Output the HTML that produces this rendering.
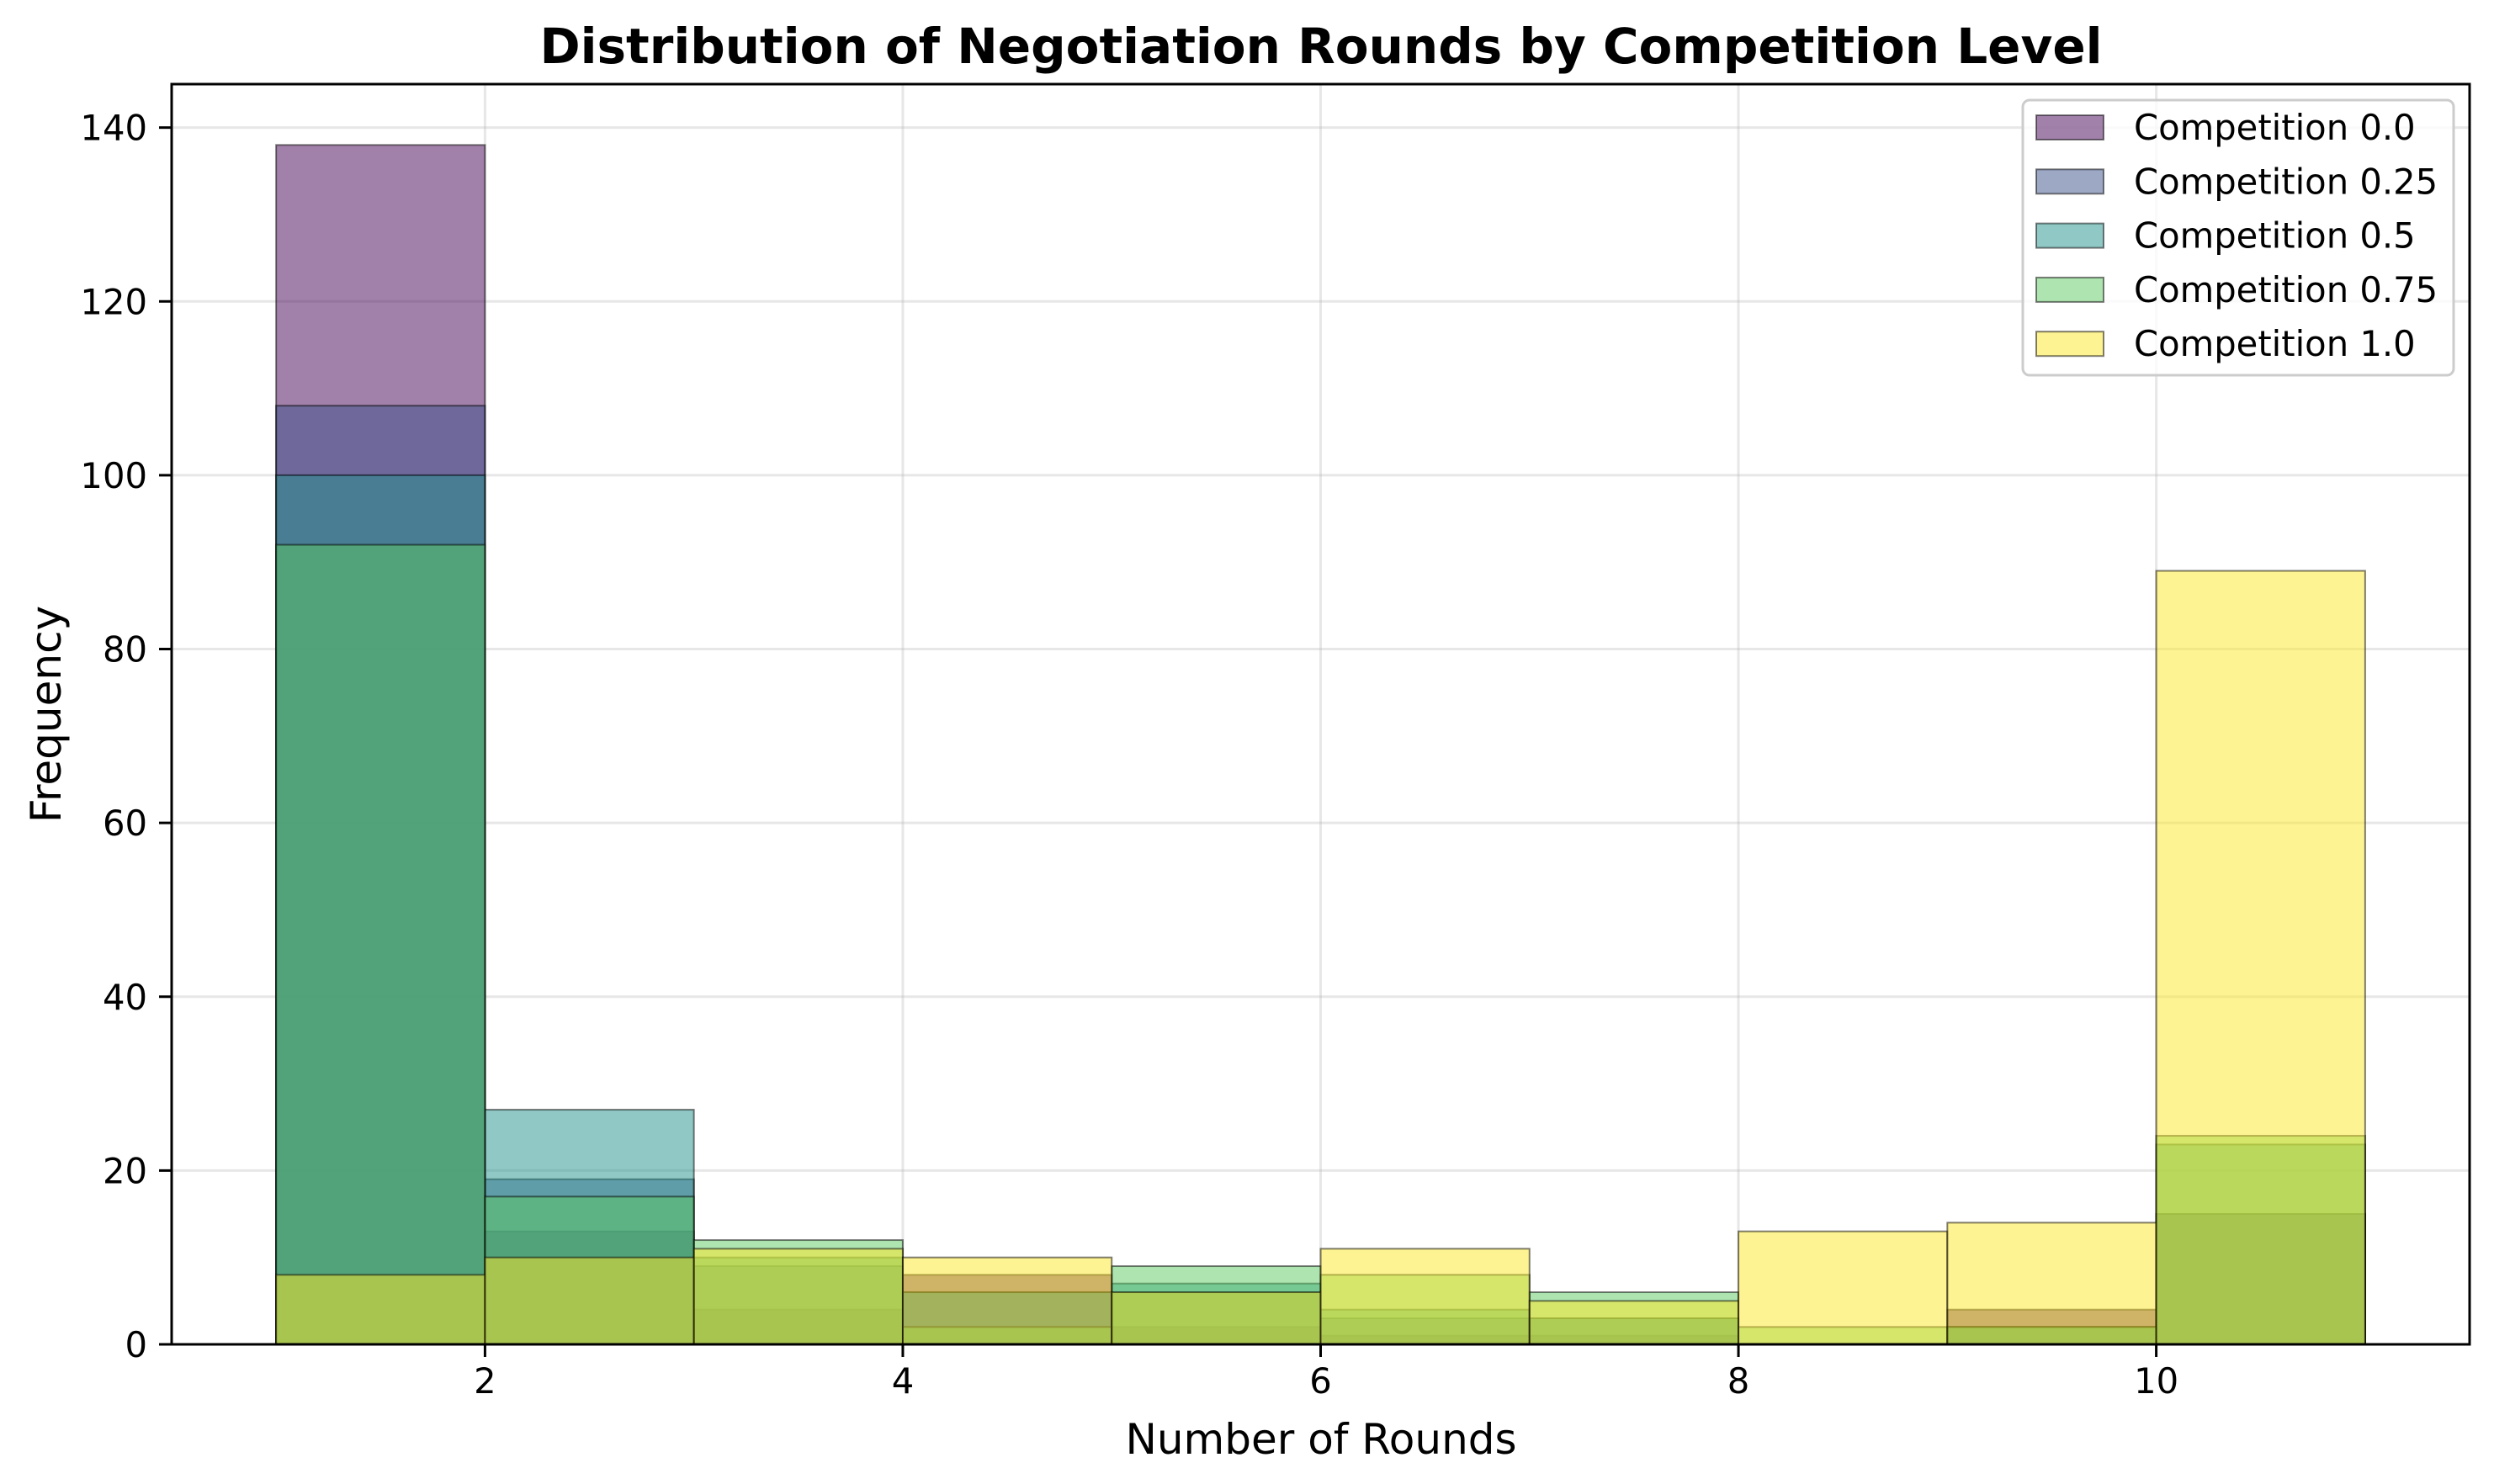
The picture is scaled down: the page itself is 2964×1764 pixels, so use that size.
<!DOCTYPE html>
<html><head><meta charset="utf-8"><style>
html,body{margin:0;padding:0;background:#fff}
svg{display:block}
text{font-family:"DejaVu Sans","Liberation Sans",sans-serif}
</style></head><body>
<svg id="chart" width="2964" height="1764" viewBox="0 0 2964 1764" xmlns="http://www.w3.org/2000/svg">
<rect width="2964" height="1764" fill="#fff"/>
<text x="1570" y="75" text-anchor="middle" font-size="58" font-weight="bold">Distribution of Negotiation Rounds by Competition Level</text>
<g id="grid"></g>
<g id="bars"></g>
<rect x="204" y="100" width="2731" height="1498" fill="none" stroke="#000" stroke-width="3"/>
<g id="ticks"></g>
<text x="1570" y="1728" text-anchor="middle" font-size="50">Number of Rounds</text>
<text transform="translate(72,849) rotate(-90)" text-anchor="middle" font-size="50">Frequency</text>
<g id="legend"></g>
</svg>
<script>
const binEdges = [1,2,3,4,5,6,7,8,9,10,11];
const seriesNames = ["Competition 0.0","Competition 0.25","Competition 0.5","Competition 0.75","Competition 1.0"];
const comp00 = [138,13,4,8,2,1,1,0,4,15];
const comp025 = [108,19,9,6,6,3,3,0,2,15];
const comp05 = [100,27,10,6,7,4,3,0,2,23];
const comp075 = [92,17,12,2,9,8,6,2,2,24];
const comp10 = [8,10,11,10,6,11,5,13,14,89];
const xTicks = [2,4,6,8,10];
const yTicks = [0,20,40,60,80,100,120,140];
const colors = ["#440154","#3b528b","#21918c","#5ec962","#fde725"];
const series = [comp00,comp025,comp05,comp075,comp10];

const L=204,R=2935,T=100,B=1598;
const X0=0.5,X1=11.5,Y0=0,Y1=145;
function sx(v){return L+(v-X0)/(X1-X0)*(R-L);}
function sy(v){return B-(v-Y0)/(Y1-Y0)*(B-T);}
const NS="http://www.w3.org/2000/svg";
function mk(tag,attrs,parent){const e=document.createElementNS(NS,tag);for(const k in attrs)e.setAttribute(k,attrs[k]);parent.appendChild(e);return e;}
const grid=document.getElementById('grid'),bars=document.getElementById('bars'),ticks=document.getElementById('ticks'),legend=document.getElementById('legend');

xTicks.forEach(t=>{
  const g=mk('line',{x1:sx(t),x2:sx(t),y1:T,y2:B,stroke:'#b0b0b0','stroke-opacity':0.3,'stroke-width':3},grid);
  
  
  const tk=mk('line',{x1:sx(t),x2:sx(t),y1:B,y2:B+15,stroke:'#000','stroke-width':3},ticks);
  
  
  const lb=mk('text',{x:sx(t),y:B+58,'text-anchor':'middle','font-size':41.7},ticks);
  
  
  lb.textContent=t;
});
yTicks.forEach(t=>{
  const g=mk('line',{x1:L,x2:R,y1:sy(t),y2:sy(t),stroke:'#b0b0b0','stroke-opacity':0.3,'stroke-width':3},grid);
  
  
  const tk=mk('line',{x1:L-15,x2:L,y1:sy(t),y2:sy(t),stroke:'#000','stroke-width':3},ticks);
  
  
  const lb=mk('text',{x:L-29,y:sy(t)+15,'text-anchor':'end','font-size':41.7},ticks);
  
  
  lb.textContent=t;
});
series.forEach((vals,si)=>{
  vals.forEach((v,i)=>{
    const x=sx(binEdges[i]),w=sx(binEdges[i+1])-x;
    const r=mk('rect',{x:x,y:sy(v),width:w,height:sy(0)-sy(v),fill:colors[si],'fill-opacity':0.5,stroke:'#000','stroke-opacity':0.5,'stroke-width':2},bars);
    
    
  });
});
const lg=mk('rect',{x:2404,y:119,width:512,height:327,rx:8,fill:'#fff','fill-opacity':0.8,stroke:'#ccc','stroke-width':3},legend);


seriesNames.forEach((n,i)=>{
  const cy=151+i*64.3;
  const h=mk('rect',{x:2420,y:cy-14,width:80,height:29,fill:colors[i],'fill-opacity':0.5,stroke:'#000','stroke-opacity':0.5,'stroke-width':2},legend);
  
  
  const t=mk('text',{x:2536,y:cy+15,'font-size':41.7},legend);
  
  
  t.textContent=n;
});
</script>
</body></html>
